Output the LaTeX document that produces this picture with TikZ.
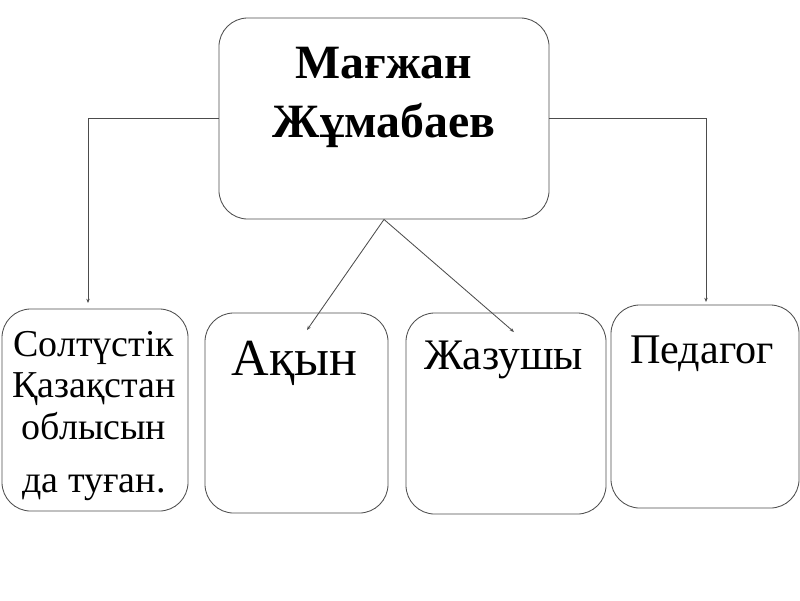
\documentclass[tikz,border=0pt]{standalone}
\usepackage{fontspec}
\setmainfont{Liberation Serif}
\usetikzlibrary{arrows.meta, positioning}

\begin{document}
\begin{tikzpicture}[x=0.025cm, y=-0.025cm,
    box/.style={draw=black!70, line width=0.6pt, rounded corners=0.72cm, inner sep=0pt},
    link/.style={draw=black!70, line width=0.6pt, -{Stealth[length=3pt,width=2.4pt]}}]
    \useasboundingbox (0,0) rectangle (800,600);

    % Main box with the name
    \node[box, minimum width=8.25cm, minimum height=5.025cm] (name) at (384,118.5) {};
    \node[align=center, anchor=north, inner sep=0pt, font=\bfseries\fontsize{34}{42}\selectfont] (nametext) at (384,47) {Мағжан\\Жұмабаев};

    % Boxes below
    \node[box, minimum width=4.65cm, minimum height=5.05cm] (birth) at (95,410) {};
    \node[align=center, anchor=north, inner sep=0pt, font=\fontsize{27}{29.5}\selectfont] (birthtext) at (94,331) {Солтүстік\\Қазақстан\\облысын\\[8pt]да туған.};

    \node[box, minimum width=4.575cm, minimum height=5cm] (poet) at (296.5,413) {};
    \node[anchor=base, inner sep=0pt, font=\fontsize{37}{40}\selectfont] (poettext) at (294.5,375) {Ақын};

    \node[box, minimum width=5cm, minimum height=5.025cm] (writer) at (506,413.5) {};
    \node[anchor=base, inner sep=0pt, font=\fontsize{31}{34}\selectfont] (writertext) at (504,369) {Жазушы};

    \node[box, minimum width=4.7cm, minimum height=5.075cm] (teacher) at (705,406.5) {};
    \node[anchor=base, inner sep=0pt, font=\fontsize{30}{33}\selectfont] (teachertext) at (702,363) {Педагог};

    % Connectors
    \coordinate (birthend) at (88,303);
    \coordinate (teacherend) at (706,302);
    \coordinate (poetend) at (307,330);
    \coordinate (writerend) at (514,332);
    \draw[link] (name.west) -| (birthend);
    \draw[link] (name.east) -| (teacherend);
    \draw[link] (name.south) -- (poetend);
    \draw[link] (name.south) -- (writerend);

\end{tikzpicture}
\end{document}
